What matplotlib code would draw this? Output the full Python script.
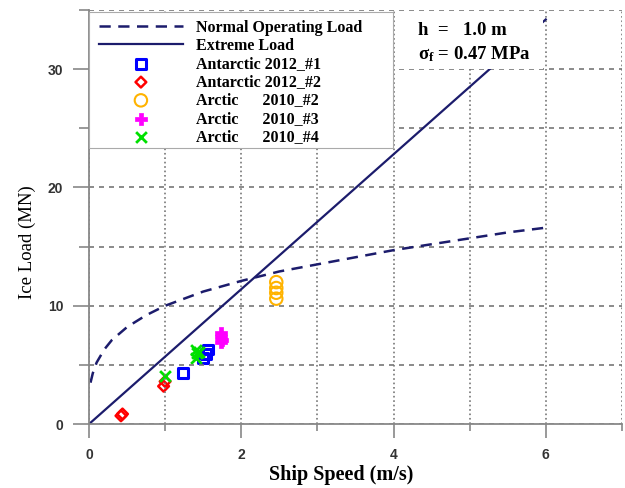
import matplotlib
matplotlib.use('Agg')
import matplotlib.pyplot as plt
from matplotlib.patches import Rectangle
from matplotlib.ticker import MultipleLocator

# normal operating load curve
normal_x = [0.02, 0.05, 0.1, 0.2, 0.3, 0.5, 0.75, 1.0, 1.5, 2.0, 2.5, 3.0, 3.5, 4.0, 4.5, 5.0, 5.5, 6.0]
normal_y = [3.5, 4.3, 5.2, 6.3, 7.1, 8.2, 9.2, 10.0, 11.2, 12.1, 12.9, 13.5, 14.1, 14.7, 15.2, 15.7, 16.2, 16.6]

# extreme load line
extreme_x = [0.0, 6.0]
extreme_y = [0.0, 34.2]

# measured data
ant1_x = [1.23, 1.50, 1.54, 1.56]
ant1_y = [4.3, 5.6, 5.9, 6.3]
ant2_x = [0.42, 0.44, 0.98, 1.00]
ant2_y = [0.7, 0.85, 3.2, 3.6]
arc2_x = [2.46, 2.46, 2.46, 2.46]
arc2_y = [12.0, 11.5, 11.1, 10.6]
arc3_x = [1.73, 1.74, 1.75, 1.74]
arc3_y = [7.7, 7.4, 7.1, 6.9]
arc4_x = [1.00, 1.40, 1.42, 1.40, 1.45]
arc4_y = [4.1, 6.3, 6.0, 5.6, 6.1]

serif = 'Liberation Serif'
sans = 'Liberation Sans'
plt.rcParams['mathtext.fontset'] = 'custom'
plt.rcParams['mathtext.rm'] = 'Liberation Serif:bold'
plt.rcParams['mathtext.it'] = 'Liberation Serif:bold'
plt.rcParams['mathtext.bf'] = 'Liberation Serif:bold'

fig = plt.figure(figsize=(6.25, 4.88), dpi=100)
ax = fig.add_axes([0.1424, 0.131, 0.8526, 0.8485])

navy = '#1c1c6c'
ax.plot(normal_x, normal_y, linestyle=(0, (4.5, 3)), color=navy, lw=1.8, label='Normal Operating Load')
ax.plot(extreme_x, extreme_y, linestyle='-', color=navy, lw=1.6, label='Extreme Load')

ax.scatter(ant1_x, ant1_y, marker='s', facecolors='none', edgecolors='#0000ff', s=50, lw=2.2, label='Antarctic 2012_#1')
ax.scatter(ant2_x, ant2_y, marker='D', facecolors='none', edgecolors='#ff0000', s=30, lw=1.8, label='Antarctic 2012_#2')
ax.scatter(arc2_x, arc2_y, marker='o', facecolors='none', edgecolors='#ffb300', s=80, lw=1.5, label='Arctic      2010_#2')
ax.scatter(arc3_x, arc3_y, marker='P', color='#ff00ff', s=70, lw=0.5, label='Arctic      2010_#3')
ax.scatter(arc4_x, arc4_y, marker='x', color='#00e000', s=60, lw=2.0, label='Arctic      2010_#4')

ax.set_xlim(0, 7)
ax.set_ylim(0, 35)
ax.xaxis.set_major_locator(MultipleLocator(2))
ax.xaxis.set_minor_locator(MultipleLocator(1))
ax.yaxis.set_major_locator(MultipleLocator(10))
ax.yaxis.set_minor_locator(MultipleLocator(5))

ax.grid(True, which='both', axis='x', linestyle=':', color='#777777', lw=1.2)
ax.grid(True, which='both', axis='y', linestyle=(0, (3, 3)), color='#777777', lw=1.2)

for s in ['top', 'right']:
    ax.spines[s].set_visible(False)
for s in ['left', 'bottom']:
    ax.spines[s].set_color('#888888')
    ax.spines[s].set_linewidth(1.3)

ax.tick_params(axis='y', which='major', direction='out', length=11.5, width=1.2, color='#888888', pad=7)
ax.tick_params(axis='y', which='minor', direction='out', length=7, width=1.2, color='#888888')
ax.tick_params(axis='x', which='major', direction='out', length=10, width=1.2, color='#888888', pad=7)
ax.tick_params(axis='x', which='minor', direction='out', length=5, width=1.2, color='#888888')
for lab in ax.get_xticklabels() + ax.get_yticklabels():
    lab.set_fontfamily(sans)
    lab.set_fontweight('bold')
    lab.set_fontsize(10)
    lab.set_color('#333333')

ax.set_xlabel('Ship Speed (m/s)', fontfamily=serif, fontweight='bold', fontsize=14.5)
ax.xaxis.set_label_coords(0.473, -0.1)
ax.set_ylabel('Ice Load (MN)', fontfamily=serif, fontsize=13.5)
ax.yaxis.set_label_coords(-0.10, 0.44)

# white backing box for the legend
ax.add_patch(Rectangle((0.0, 0.667), 0.57, 0.329, transform=ax.transAxes, facecolor='white',
                       edgecolor='#aaaaaa', lw=0.8, zorder=3))
leg = ax.legend(loc='upper left', bbox_to_anchor=(0.0, 1.0), borderaxespad=0, frameon=False,
                handlelength=5.3, handletextpad=0.8, borderpad=0.6, labelspacing=0.14,
                prop={'family': serif, 'weight': 'bold', 'size': 11.5}, scatterpoints=1)
leg.set_zorder(5)

# white box for the ice parameters
ax.add_patch(Rectangle((4.03, 30.05), 1.94, 4.85, facecolor='white', edgecolor='none', zorder=3))
ax.text(4.32, 33.3, 'h  =   1.0 m', fontfamily=serif, fontweight='bold', fontsize=13.5, va='center', zorder=4)
ax.text(4.32, 31.3, r'$\sigma_\mathrm{f}$ = 0.47 MPa', fontfamily=serif, fontweight='bold', fontsize=13.5,
        va='center', zorder=4)

fig.savefig('out.png', dpi=100)
